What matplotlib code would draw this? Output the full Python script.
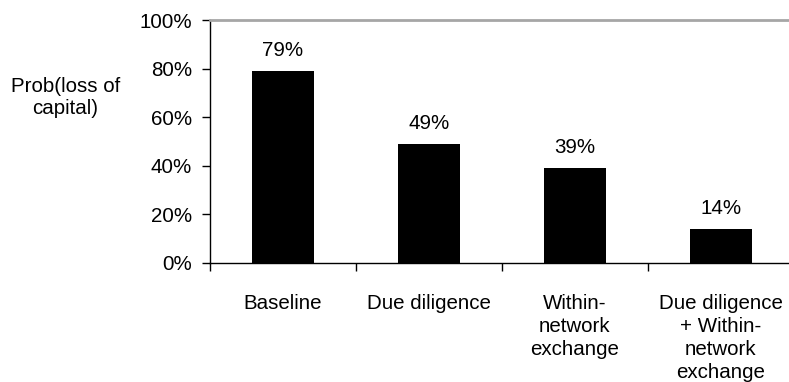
import numpy as np
from matplotlib import pyplot as plt
from matplotlib.ticker import FuncFormatter, FixedLocator

categories = ["Baseline", "Due diligence", "Within-\nnetwork\nexchange",
              "Due diligence\n+ Within-\nnetwork\nexchange"]
prob_loss = [0.79, 0.49, 0.39, 0.14]
value_labels = ["79%", "49%", "39%", "14%"]

plt.rcParams['font.family'] = ['Liberation Sans', 'DejaVu Sans']
fs = 14.8

fig = plt.figure(figsize=(7.89, 3.82), dpi=100)
ax = fig.add_axes([210 / 789, 1 - 263 / 382, 584 / 789, 243 / 382])

x = np.arange(len(categories))
ax.bar(x, prob_loss, width=0.42, color="black")

# Value labels above bars
for xi, v, lab in zip(x, prob_loss, value_labels):
    ax.annotate(lab, (xi, v), xytext=(0, 11), textcoords="offset points",
                ha="center", va="baseline", fontsize=fs)

ax.set_xlim(-0.5, 3.5)
ax.set_ylim(0, 1)
ax.set_yticks(np.arange(0, 1.01, 0.2))
ax.yaxis.set_major_formatter(FuncFormatter(lambda v, p: f"{v * 100:.0f}%"))

ax.set_xticks(x)
ax.set_xticklabels(categories, fontsize=fs, linespacing=1.25)
ax.xaxis.set_minor_locator(FixedLocator(np.arange(-0.5, 4, 1)))
ax.tick_params(axis="x", which="major", length=0, pad=22.5)
ax.tick_params(axis="x", which="minor", length=6, width=1)
ax.tick_params(axis="y", length=6, width=1, pad=7, labelsize=fs)

ax.set_ylabel("Prob(loss of\ncapital)", fontsize=fs, rotation=0,
              ha="center", va="center", linespacing=1.2)
ax.yaxis.set_label_coords(-0.248, 0.683)

for side in ["top", "right"]:
    ax.spines[side].set_color("#a6a6a6")
    ax.spines[side].set_linewidth(2)
for side in ["left", "bottom"]:
    ax.spines[side].set_color("black")
    ax.spines[side].set_linewidth(1)

fig.savefig("out.png", dpi=100)
